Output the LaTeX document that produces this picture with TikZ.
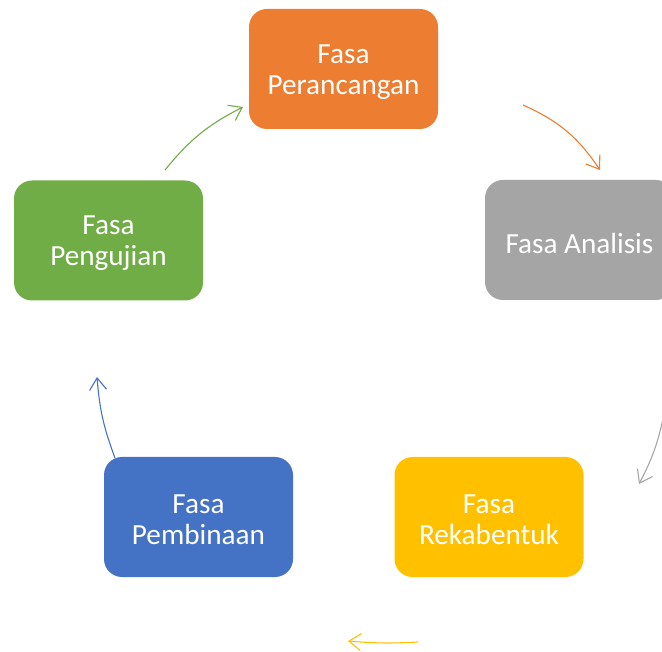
\documentclass[tikz,border=0pt]{standalone}
\usepackage{fontspec}
\setmainfont{Carlito}
\usetikzlibrary{arrows.meta}
\definecolor{cOrange}{HTML}{ED7D31}
\definecolor{cGray}{HTML}{A5A5A5}
\definecolor{cYellow}{HTML}{FFC000}
\definecolor{cBlue}{HTML}{4472C4}
\definecolor{cGreen}{HTML}{70AD47}
\tikzset{
  phasebox/.style={rounded corners=18pt, minimum width=189pt, minimum height=120pt,
    inner sep=0pt},
  phasetext/.style={text=white, align=center, inner sep=0pt, yshift=-3pt,
    font=\fontsize{29.2}{31}\selectfont},
  cyc/.style={line width=1.1pt, -{Straight Barb[length=12pt,width=17pt]}, bend left=16},
}
\begin{document}
\begin{tikzpicture}[x=1pt,y=-1pt]
\useasboundingbox (0,0) rectangle (662,652);
\node[phasebox, fill=cOrange, label={[phasetext]center:Fasa\\Perancangan}] (perancangan) at (343.5,69) {};
\node[phasebox, fill=cGray, label={[phasetext]center:Fasa Analisis}] (analisis) at (579.5,240) {};
\node[phasebox, fill=cYellow, label={[phasetext]center:Fasa\\Rekabentuk}] (rekabentuk) at (489,517) {};
\node[phasebox, fill=cBlue, label={[phasetext]center:Fasa\\Pembinaan}] (pembinaan) at (198.5,517) {};
\node[phasebox, fill=cGreen, label={[phasetext]center:Fasa\\Pengujian}] (pengujian) at (108.5,240.5) {};
\coordinate (o1) at (523,105); \coordinate (o2) at (600,170);
\coordinate (g1) at (664,414); \coordinate (g2) at (639,484);
\coordinate (y1) at (418,642); \coordinate (y2) at (348,641);
\coordinate (b1) at (115,458); \coordinate (b2) at (97,377);
\coordinate (n1) at (165,170); \coordinate (n2) at (243,107);
\draw[cyc, cOrange] (o1) to (o2);
\draw[cyc, cGray, bend left=8] (g1) to (g2);
\draw[cyc, cYellow, bend left=4] (y1) to (y2);
\draw[cyc, cBlue, bend left=8] (b1) to (b2);
\draw[cyc, cGreen, bend left=12] (n1) to (n2);
\end{tikzpicture}
\end{document}
